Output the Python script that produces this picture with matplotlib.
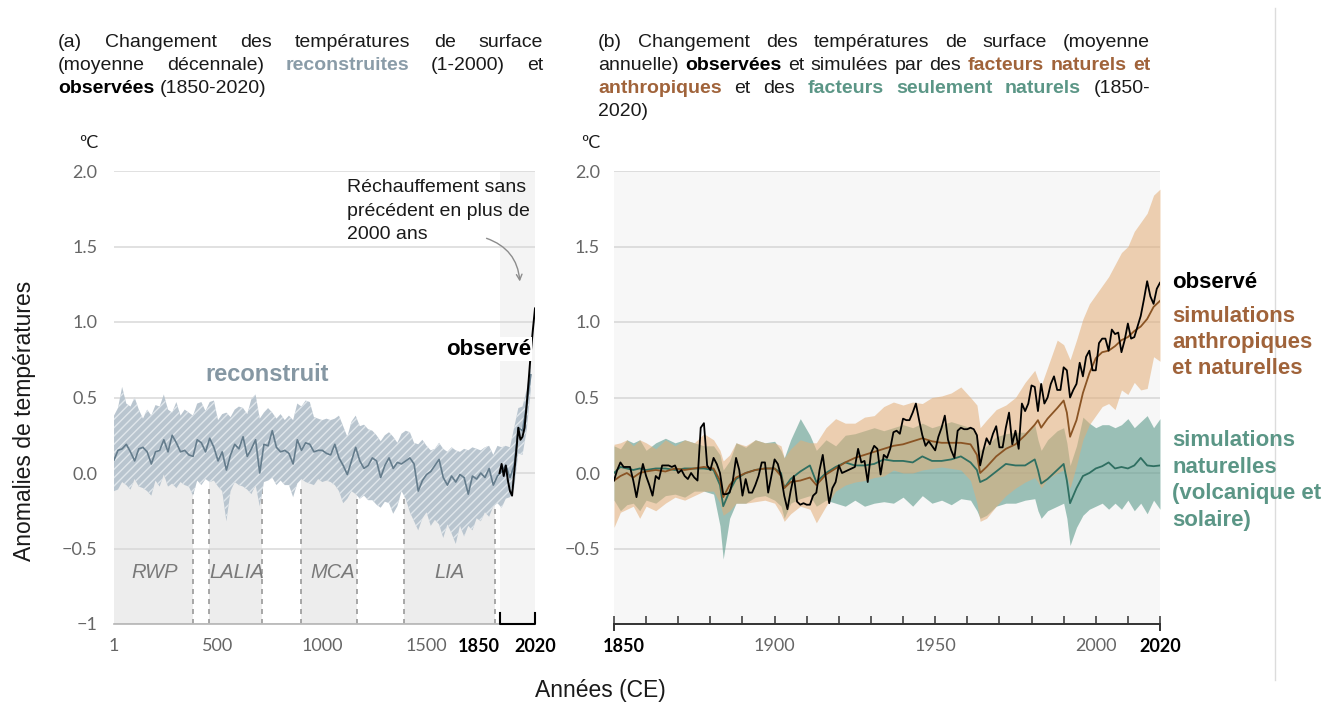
import matplotlib

matplotlib.use("Agg")
import matplotlib.pyplot as plt
from matplotlib.lines import Line2D
from matplotlib.transforms import ScaledTranslation

W, H = 1328, 704

plt.rcParams["font.family"] = ["Liberation Sans", "DejaVu Sans"]
plt.rcParams["hatch.linewidth"] = 1.0

# ---------------- panel (a): reconstructed decadal means, 1-2000 CE
recon_years = [1] + list(range(20, 2001, 20))
recon_mid = [
    0.085, 0.15, 0.16, 0.19, 0.14, 0.08, 0.16, 0.17, 0.14, 0.06,
    0.14, 0.15, 0.22, 0.14, 0.25, 0.20, 0.14, 0.15, 0.12, 0.11,
    0.22, 0.20, 0.14, 0.23, 0.17, 0.08, 0.14, 0.02, 0.12, 0.19,
    0.16, 0.24, 0.11, 0.16, 0.22, 0.00, 0.19, 0.18, 0.28, 0.17,
    0.14, 0.15, 0.13, 0.06, 0.22, 0.15, 0.20, 0.19, 0.14, 0.15,
    0.15, 0.13, 0.12, 0.19, 0.10, 0.05, -0.01, 0.08, 0.17, 0.08,
    0.03, 0.05, 0.10, 0.08, -0.03, 0.05, 0.10, 0.03, 0.07, 0.06,
    0.08, 0.10, 0.06, -0.12, -0.05, -0.01, 0.01, 0.05, 0.09, -0.03,
    -0.08, -0.02, -0.06, -0.01, -0.03, -0.14, -0.02, -0.04, 0.00, -0.03,
    0.03, -0.08, -0.02, 0.01, 0.05, -0.03, 0.05, 0.30, 0.28, 0.45,
    0.65,
]
recon_hi = [
    0.38, 0.43, 0.57, 0.46, 0.44, 0.50, 0.42, 0.36, 0.42, 0.38,
    0.45, 0.44, 0.52, 0.42, 0.40, 0.47, 0.38, 0.42, 0.40, 0.38,
    0.46, 0.47, 0.41, 0.47, 0.48, 0.35, 0.39, 0.40, 0.37, 0.42,
    0.44, 0.43, 0.39, 0.49, 0.52, 0.36, 0.40, 0.43, 0.40, 0.36,
    0.39, 0.35, 0.38, 0.35, 0.46, 0.44, 0.48, 0.47, 0.37, 0.36,
    0.35, 0.36, 0.35, 0.36, 0.38, 0.31, 0.24, 0.34, 0.38, 0.31,
    0.32, 0.29, 0.28, 0.25, 0.21, 0.25, 0.27, 0.24, 0.20, 0.26,
    0.28, 0.27, 0.20, 0.19, 0.22, 0.18, 0.15, 0.16, 0.20, 0.16,
    0.14, 0.17, 0.15, 0.14, 0.16, 0.15, 0.17, 0.16, 0.15, 0.17,
    0.18, 0.12, 0.18, 0.17, 0.18, 0.17, 0.30, 0.43, 0.44, 0.55,
    0.72,
]
recon_lo = [
    -0.12, -0.11, -0.06, -0.08, -0.11, -0.04, -0.09, -0.10, -0.12, -0.15,
    -0.05, -0.09, -0.01, -0.09, -0.07, -0.10, -0.06, -0.08, -0.09, -0.15,
    -0.05, -0.08, -0.04, -0.06, -0.05, -0.09, -0.12, -0.32, -0.12, -0.06,
    -0.08, -0.09, -0.11, -0.14, -0.08, -0.22, -0.06, -0.05, -0.03, -0.08,
    -0.05, -0.08, -0.08, -0.16, -0.07, -0.04, -0.06, -0.07, -0.08, -0.04,
    -0.06, -0.05, -0.06, -0.08, -0.12, -0.20, -0.17, -0.12, -0.14, -0.17,
    -0.15, -0.18, -0.18, -0.21, -0.23, -0.19, -0.20, -0.27, -0.22, -0.12,
    -0.17, -0.26, -0.32, -0.38, -0.30, -0.26, -0.35, -0.31, -0.34, -0.43,
    -0.34, -0.40, -0.47, -0.35, -0.42, -0.35, -0.38, -0.30, -0.32, -0.26,
    -0.29, -0.22, -0.20, -0.23, -0.17, -0.16, -0.10, 0.13, 0.12, 0.28,
    0.55,
]
obs_dec_years = list(range(1850, 2021, 10))
obs_dec = [0.00, 0.06, -0.02, 0.05, -0.05, -0.12, -0.15, 0.00, 0.14,
           0.30, 0.22, 0.24, 0.30, 0.45, 0.62, 0.80, 0.95, 1.09]

periods = ["RWP", "LALIA", "MCA", "LIA"]
period_start = [1, 457, 899, 1393]
period_end = [380, 712, 1165, 1826]
period_label_x = [197, 592, 1048, 1610]

a_xticks = [1, 500, 1000, 1500, 1850, 2020]
a_xlabels = ["1", "500", "1000", "1500", "1850", "2020"]
yticks = [2.0, 1.5, 1.0, 0.5, 0.0, -0.5, -1.0]
a_ylabels = ["2.0", "1.5", "1.0", "0.5", "0.0", "\u22120.5", "\u22121"]
b_ylabels = ["2.0", "1.5", "1.0", "0.5", "0.0", "\u22120.5", ""]

# ---------------- panel (b): annual observed and simulated, 1850-2020
obs_years = list(range(1850, 2021))
obs_annual = [
    -0.05, 0.02, 0.07, 0.04, 0.04, 0.04, -0.05, -0.16, -0.04, 0.06,
    -0.02, -0.08, -0.15, -0.02, -0.04, 0.05, 0.05, 0.05, 0.04, 0.05,
    0.00, 0.02, -0.02, -0.04, 0.00, -0.03, -0.05, 0.30, 0.33, 0.05,
    0.02, 0.10, 0.06, 0.00, -0.14, -0.14, -0.13, -0.05, 0.10, 0.02,
    -0.15, -0.04, -0.13, -0.13, -0.08, -0.02, 0.07, 0.07, -0.13, -0.02,
    0.09, 0.06, -0.02, -0.15, -0.24, -0.12, -0.02, -0.19, -0.21, -0.20,
    -0.21, -0.21, -0.15, -0.13, 0.02, 0.12, -0.04, -0.20, -0.10, -0.06,
    0.05, 0.00, 0.01, 0.02, 0.03, 0.04, 0.16, 0.07, 0.08, -0.06,
    0.13, 0.18, 0.16, -0.01, 0.12, 0.10, 0.16, 0.27, 0.28, 0.26,
    0.36, 0.35, 0.35, 0.40, 0.46, 0.35, 0.25, 0.18, 0.21, 0.18,
    0.15, 0.24, 0.30, 0.38, 0.22, 0.15, 0.10, 0.28, 0.30, 0.29,
    0.29, 0.30, 0.29, 0.25, 0.05, 0.15, 0.23, 0.19, 0.26, 0.31,
    0.17, 0.17, 0.30, 0.40, 0.19, 0.28, 0.16, 0.46, 0.41, 0.46,
    0.58, 0.57, 0.41, 0.59, 0.46, 0.50, 0.59, 0.64, 0.55, 0.55,
    0.70, 0.68, 0.50, 0.55, 0.59, 0.73, 0.64, 0.77, 0.81, 0.68,
    0.68, 0.86, 0.89, 0.89, 0.81, 0.95, 0.92, 0.93, 0.80, 0.88,
    0.99, 0.89, 0.90, 0.97, 1.04, 1.15, 1.27, 1.17, 1.12, 1.22,
    1.26,
]
sim_years = [
    1850, 1852, 1854, 1856, 1858, 1860, 1863, 1866, 1869, 1872,
    1875, 1878, 1881, 1883, 1884, 1886, 1888, 1891, 1894, 1897,
    1900, 1902, 1903, 1905, 1908, 1911, 1913, 1916, 1919, 1922,
    1925, 1928, 1931, 1934, 1937, 1940, 1943, 1946, 1949, 1952,
    1955, 1958, 1961, 1963, 1964, 1966, 1969, 1972, 1975, 1978,
    1981, 1982, 1983, 1985, 1988, 1990, 1991, 1992, 1994, 1996,
    1998, 2000, 2002, 2004, 2006, 2008, 2010, 2012, 2014, 2016,
    2018, 2020,
]
anthro_mid = [
    -0.05, -0.02, 0.00, -0.03, 0.00, 0.01, 0.02, 0.01, 0.03, 0.02,
    0.03, 0.04, 0.03, -0.05, -0.16, -0.08, -0.03, 0.00, 0.02, 0.03,
    0.03, -0.02, -0.10, -0.06, -0.05, -0.03, -0.08, -0.01, 0.03, 0.07,
    0.10, 0.12, 0.14, 0.16, 0.18, 0.19, 0.21, 0.23, 0.21, 0.20,
    0.20, 0.20, 0.19, 0.12, 0.00, 0.04, 0.11, 0.16, 0.19, 0.25,
    0.32, 0.35, 0.30, 0.36, 0.43, 0.48, 0.40, 0.24, 0.35, 0.53,
    0.66, 0.76, 0.80, 0.81, 0.84, 0.88, 0.90, 0.94, 0.97, 1.02,
    1.10, 1.14,
]
anthro_hi = [
    0.19, 0.20, 0.22, 0.18, 0.22, 0.20, 0.16, 0.22, 0.18, 0.22,
    0.20, 0.26, 0.22, 0.15, 0.08, 0.12, 0.20, 0.18, 0.22, 0.20,
    0.20, 0.18, 0.10, 0.16, 0.22, 0.20, 0.20, 0.30, 0.36, 0.33,
    0.33, 0.37, 0.38, 0.44, 0.47, 0.45, 0.47, 0.46, 0.50, 0.51,
    0.53, 0.57, 0.50, 0.45, 0.30, 0.35, 0.42, 0.45, 0.50, 0.60,
    0.68, 0.62, 0.58, 0.70, 0.88, 0.85, 0.80, 0.75, 0.88, 1.02,
    1.12, 1.18, 1.24, 1.30, 1.38, 1.46, 1.50, 1.60, 1.66, 1.72,
    1.84, 1.88,
]
anthro_lo = [
    -0.36, -0.26, -0.24, -0.22, -0.30, -0.22, -0.25, -0.20, -0.16, -0.18,
    -0.15, -0.12, -0.12, -0.20, -0.28, -0.25, -0.20, -0.20, -0.19, -0.18,
    -0.20, -0.27, -0.32, -0.27, -0.22, -0.24, -0.33, -0.22, -0.12, -0.08,
    -0.06, -0.05, -0.03, -0.02, 0.02, 0.00, 0.00, 0.02, 0.03, 0.04,
    0.03, 0.02, -0.05, -0.20, -0.32, -0.30, -0.22, -0.15, -0.10, -0.06,
    -0.03, -0.06, -0.10, -0.04, 0.00, 0.02, -0.02, -0.10, 0.05, 0.22,
    0.32, 0.38, 0.44, 0.46, 0.42, 0.55, 0.52, 0.60, 0.55, 0.56,
    0.77, 0.74,
]
nat_mid = [
    0.00, 0.04, 0.03, 0.02, 0.03, 0.02, 0.03, 0.03, 0.02, 0.03,
    0.03, 0.03, 0.02, -0.08, -0.22, -0.12, -0.04, 0.00, 0.02, 0.03,
    0.03, 0.00, -0.10, -0.04, 0.01, 0.05, -0.06, 0.00, 0.04, 0.07,
    0.05, 0.05, 0.06, 0.09, 0.08, 0.08, 0.07, 0.11, 0.08, 0.08,
    0.09, 0.11, 0.07, 0.02, -0.06, -0.04, 0.01, 0.06, 0.05, 0.05,
    0.09, 0.02, -0.07, -0.04, 0.02, 0.06, -0.05, -0.20, -0.10, -0.02,
    0.00, 0.03, 0.045, 0.07, 0.03, 0.04, 0.03, 0.05, 0.10, 0.05,
    0.045, 0.05,
]
nat_hi = [
    0.18, 0.16, 0.22, 0.20, 0.22, 0.15, 0.20, 0.23, 0.20, 0.22,
    0.20, 0.18, 0.18, 0.12, 0.02, 0.08, 0.20, 0.17, 0.22, 0.20,
    0.21, 0.15, 0.10, 0.22, 0.36, 0.25, 0.15, 0.22, 0.18, 0.25,
    0.26, 0.28, 0.30, 0.28, 0.30, 0.32, 0.30, 0.33, 0.30, 0.32,
    0.34, 0.32, 0.30, 0.25, 0.15, 0.18, 0.24, 0.26, 0.27, 0.27,
    0.32, 0.22, 0.15, 0.22, 0.28, 0.30, 0.20, 0.05, 0.18, 0.37,
    0.33, 0.30, 0.32, 0.32, 0.30, 0.32, 0.36, 0.30, 0.34, 0.38,
    0.30, 0.36,
]
nat_lo = [
    -0.18, -0.25, -0.21, -0.20, -0.25, -0.18, -0.20, -0.15, -0.14, -0.16,
    -0.12, -0.12, -0.14, -0.35, -0.57, -0.30, -0.20, -0.20, -0.16, -0.15,
    -0.18, -0.22, -0.30, -0.20, -0.17, -0.15, -0.22, -0.18, -0.20, -0.22,
    -0.18, -0.22, -0.20, -0.19, -0.20, -0.16, -0.22, -0.15, -0.20, -0.18,
    -0.21, -0.17, -0.18, -0.25, -0.30, -0.28, -0.22, -0.20, -0.20, -0.18,
    -0.17, -0.25, -0.30, -0.25, -0.22, -0.20, -0.30, -0.48, -0.36, -0.28,
    -0.24, -0.22, -0.20, -0.24, -0.20, -0.24, -0.18, -0.25, -0.20, -0.27,
    -0.18, -0.24,
]
b_xticks = [1850, 1900, 1950, 2000, 2020]
b_xlabels = ["1850", "1900", "1950", "2000", "2020"]
b_minor = list(range(1860, 2020, 10))

INK = "#1a1a1a"
GREY_TXT = "#666666"
RECON_TXT = "#8a9ca8"
BROWN_TXT = "#a0633a"
TEAL_TXT = "#5b9686"

title_a = [
    [("(a) Changement des températures de surface", "n")],
    [("(moyenne décennale)", "n"), ("reconstruites", "recon"), ("(1-2000) et", "n")],
    [("observées", "obs"), ("(1850-2020)", "n")],
]
title_b = [
    [("(b) Changement des températures de surface (moyenne", "n")],
    [("annuelle)", "n"), ("observées", "obs"), ("et simulées par des", "n"),
     ("facteurs naturels et", "anth")],
    [("anthropiques", "anth"), ("et des", "n"), ("facteurs seulement naturels", "nat"),
     ("(1850-", "n")],
    [("2020)", "n")],
]
styles = {
    "n": (INK, "normal"),
    "recon": (RECON_TXT, "bold"),
    "obs": ("black", "bold"),
    "anth": (BROWN_TXT, "bold"),
    "nat": (TEAL_TXT, "bold"),
}


def fx(x):
    return x / W


def fy(y):
    return 1 - y / H


def justified(fig, renderer, lines, x0, x1, y0, step, size):
    # one text per word so that mixed colours can be spread edge to edge
    for i, line in enumerate(lines):
        words = []
        for text, key in line:
            for w in text.split():
                words.append((w, key))
        arts, widths = [], []
        for w, key in words:
            color, weight = styles[key]
            t = fig.text(0, 0, w, fontsize=size, color=color, fontweight=weight,
                         va="baseline", ha="left")
            arts.append(t)
            widths.append(t.get_window_extent(renderer).width)
        last = i == len(lines) - 1
        if last or len(words) == 1:
            gap = size * 100 / 72 * 0.28
        else:
            gap = (x1 - x0 - sum(widths)) / (len(words) - 1)
        x = x0
        for t, wd in zip(arts, widths):
            t.set_position((fx(x), fy(y0 + i * step)))
            x += wd + gap


fig = plt.figure(figsize=(W / 100, H / 100), dpi=100)
renderer = fig.canvas.get_renderer()

ax_a = fig.add_axes([fx(114), fy(624), (535 - 114) / W, (624 - 171) / H])
ax_b = fig.add_axes([fx(614), fy(624), (1160 - 614) / W, (624 - 171) / H])

# ---------------- panel (a)
ax_a.set_xlim(1, 2020)
ax_a.set_ylim(-1, 2)
ax_a.axvspan(obs_dec_years[0], obs_dec_years[-1], color="#f4f4f4", lw=0, zorder=0)
for s, e in zip(period_start, period_end):
    ax_a.axvspan(s, e, ymin=0, ymax=1 / 3, color="#ededed", lw=0, zorder=0.2)
ax_a.vlines(period_start[1:] + period_end, -1, -0.1, colors="#9a9a9a",
            linestyles=(0, (3, 3)), lw=1.2, zorder=0.3)
ax_a.set_yticks(yticks)
ax_a.set_yticklabels(a_ylabels)
ax_a.yaxis.grid(True, color="#d8d8d8", lw=1.1)
ax_a.set_axisbelow(True)

ax_a.fill_between(recon_years, recon_lo, recon_hi, facecolor="#b9c5cf",
                  edgecolor="#e0e6eb", hatch="////", lw=0, zorder=2)
ax_a.plot(recon_years, recon_mid, color="#647c8c", lw=1.2, zorder=3)
ax_a.plot(obs_dec_years, obs_dec, color="black", lw=1.4, zorder=4)

for name, xc in zip(periods, period_label_x):
    ax_a.text(xc, -0.66, name, ha="center", va="center", fontsize=14.5,
              style="italic", color="#7a7a7a", zorder=1)

ax_a.text(438, 0.65, "reconstruit", ha="left", va="center", fontsize=17,
          fontweight="bold", color="#8597a3", zorder=5)
ax_a.text(2000, 0.82, "observé", ha="right", va="center", fontsize=16,
          fontweight="bold", color="black", zorder=5,
          bbox=dict(facecolor="white", edgecolor="none", pad=1))
ax_a.annotate("", xy=(1948, 1.25), xytext=(1775, 1.56),
              arrowprops=dict(arrowstyle="->", color="#8c8c8c", lw=1,
                              connectionstyle="arc3,rad=-0.35"))
for i, line in enumerate(["Réchauffement sans", "précédent en plus de", "2000 ans"]):
    fig.text(fx(347), fy(188 + i * 23.5), line, fontsize=14, color=INK,
             ha="left", va="center")

for side in ["left", "right", "top"]:
    ax_a.spines[side].set_visible(False)
ax_a.spines["bottom"].set_bounds(a_xticks[0], obs_dec_years[0])
ax_a.spines["bottom"].set_color("#b5b5b5")
ax_a.spines["bottom"].set_linewidth(1.2)
ax_a.plot([obs_dec_years[0], obs_dec_years[0], obs_dec_years[-1], obs_dec_years[-1]],
          [-0.93, -1, -1, -0.93], color="black", lw=1.5, clip_on=False, zorder=6)
ax_a.set_xticks(a_xticks)
ax_a.set_xticklabels(a_xlabels)
ax_a.tick_params(axis="both", length=0, labelsize=13, labelcolor=GREY_TXT,
                 labelfontfamily="Lato")
ax_a.tick_params(axis="x", pad=10)
ax_a.tick_params(axis="y", pad=12)
for lbl in ax_a.get_xticklabels():
    if lbl.get_text() in ("1850", "2020"):
        lbl.set_fontweight("bold")
        lbl.set_color("black")
    if lbl.get_text() == "1850":
        lbl.set_ha("right")

# ---------------- panel (b)
ax_b.set_xlim(obs_years[0], obs_years[-1])
ax_b.set_ylim(-1, 2)
ax_b.set_facecolor("#f7f7f7")
ax_b.set_yticks(yticks)
ax_b.set_yticklabels(b_ylabels)
ax_b.yaxis.grid(True, color="#d6d6d6", lw=1.1)
ax_b.set_axisbelow(True)

ax_b.fill_between(sim_years, nat_lo, nat_hi, color="#5d9b8c", alpha=0.6, lw=0, zorder=2)
ax_b.fill_between(sim_years, anthro_lo, anthro_hi, color="#e3ad76", alpha=0.55, lw=0, zorder=2.1)
ax_b.plot(sim_years, nat_mid, color="#2f6f61", lw=1.3, zorder=3)
ax_b.plot(sim_years, anthro_mid, color="#8a5424", lw=1.3, zorder=3.1)
ax_b.plot(obs_years, obs_annual, color="black", lw=1.3, zorder=4)

for side in ["left", "right", "top"]:
    ax_b.spines[side].set_visible(False)
ax_b.spines["bottom"].set_color("#333333")
ax_b.spines["bottom"].set_linewidth(1.4)
ax_b.set_xticks(b_xticks)
ax_b.set_xticklabels(b_xlabels)
ax_b.set_xticks(b_minor, minor=True)
ax_b.tick_params(axis="x", which="both", direction="in", length=6, width=1.2,
                 color="#444444")
ax_b.tick_params(axis="x", which="major", pad=10)
ax_b.tick_params(axis="y", length=0, pad=10)
ax_b.tick_params(axis="both", labelsize=13, labelcolor=GREY_TXT, labelfontfamily="Lato")
for lbl in ax_b.get_xticklabels():
    if lbl.get_text() in ("1850", "2020"):
        lbl.set_fontweight("bold")
        lbl.set_color("black")
    if lbl.get_text() == "1850":
        lbl.set_transform(lbl.get_transform() + ScaledTranslation(0.1, 0, fig.dpi_scale_trans))
# end caps of the axis reach below the line
ax_b.plot([obs_years[0], obs_years[0]], [-1, -1.04], color="#333333", lw=1.4, clip_on=False)
ax_b.plot([obs_years[-1], obs_years[-1]], [-1, -1.04], color="#333333", lw=1.4, clip_on=False)

fig.text(fx(1172), fy(282), "observé", fontsize=16, fontweight="bold",
         color="black", ha="left", va="center")
for i, line in enumerate(["simulations", "anthropiques", "et naturelles"]):
    fig.text(fx(1172), fy(316 + i * 26.5), line, fontsize=16, fontweight="bold",
             color=BROWN_TXT, ha="left", va="center")
for i, line in enumerate(["simulations", "naturelles", "(volcanique et", "solaire)"]):
    fig.text(fx(1172), fy(441 + i * 26.5), line, fontsize=16, fontweight="bold",
             color=TEAL_TXT, ha="left", va="center")

# ---------------- shared labels and titles
for xpos in (89, 591):
    fig.text(fx(xpos), fy(143), "\u00baC", fontsize=13, color=INK, ha="center",
             va="center", family="Lato")
fig.text(fx(25), fy(421), "Anomalies de températures", fontsize=16.5, color=INK,
         rotation=90, ha="center", va="center")
fig.text(fx(600), fy(690), "Années (CE)", fontsize=16.5, color=INK,
         ha="center", va="center")

justified(fig, renderer, title_a, 58, 543, 47, 23, 14)
justified(fig, renderer, title_b, 598, 1150, 47, 23, 14)

fig.add_artist(Line2D([fx(1275), fx(1275)], [fy(8), fy(680)], color="#dcdcdc", lw=1))

fig.savefig("out.png", dpi=100)
